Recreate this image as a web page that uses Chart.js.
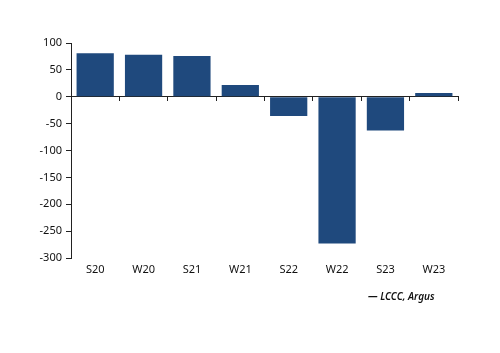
<!DOCTYPE html>
<html>
<head>
<meta charset="utf-8">
<script src="https://cdn.jsdelivr.net/npm/chart.js@4"></script>
<style>
    html, body { margin: 0; padding: 0; background: #fff; }
    #wrap { position: relative; width: 500px; height: 353px; }
    #source {
        position: absolute; left: 368px; top: 289px;
        font: italic 600 10px "Noto Sans", sans-serif; color: #111;
    }
</style>
</head>
<body>
<div id="wrap">
    <canvas id="chart" width="500" height="353"></canvas>
    <div id="source">&mdash; LCCC, Argus</div>
</div>
<script>
// Data
const seasons = ['S20', 'W20', 'S21', 'W21', 'S22', 'W22', 'S23', 'W23'];
const values = [81, 78, 76, 22, -36, -273, -63, 7];
const yTicks = [100, 50, 0, -50, -100, -150, -200, -250, -300];

const barColor = '#1f497d';
const textColor = '#111';
const axisColor = '#222';

Chart.defaults.font.family = '"Noto Sans", sans-serif';
Chart.defaults.font.size = 11;
Chart.defaults.color = textColor;

new Chart(document.getElementById('chart'), {
    type: 'bar',
    data: {
        labels: seasons,
        datasets: [{
            data: values,
            backgroundColor: barColor,
            categoryPercentage: 1,
            barPercentage: 0.77,
            xAxisID: 'x'
        }]
    },
    options: {
        responsive: false,
        animation: false,
        events: [],
        layout: { padding: { left: 0, top: 43, right: 42, bottom: 0 } },
        plugins: { legend: { display: false }, tooltip: { enabled: false } },
        scales: {
            x: {
                position: 'bottom',
                grid: { display: false, drawTicks: false },
                border: { display: false },
                ticks: { padding: 5 },
                afterFit: s => { s.height = 95; }
            },
            x2: {
                type: 'category',
                labels: seasons,
                position: { y: 0 },
                offset: true,
                grid: { offset: true, drawOnChartArea: false, drawTicks: true, tickLength: 4, color: axisColor, lineWidth: 1 },
                border: { display: true, color: axisColor, width: 1 },
                ticks: { display: false }
            },
            y: {
                min: -300,
                max: 100,
                afterBuildTicks: s => { s.ticks = yTicks.map(v => ({ value: v })); },
                grid: { drawOnChartArea: false, drawTicks: true, tickLength: 5, color: axisColor },
                border: { display: true, color: axisColor, width: 1 },
                ticks: { padding: 4 },
                afterFit: s => { s.width = 71; }
            }
        }
    }
});
</script>
</body>
</html>
